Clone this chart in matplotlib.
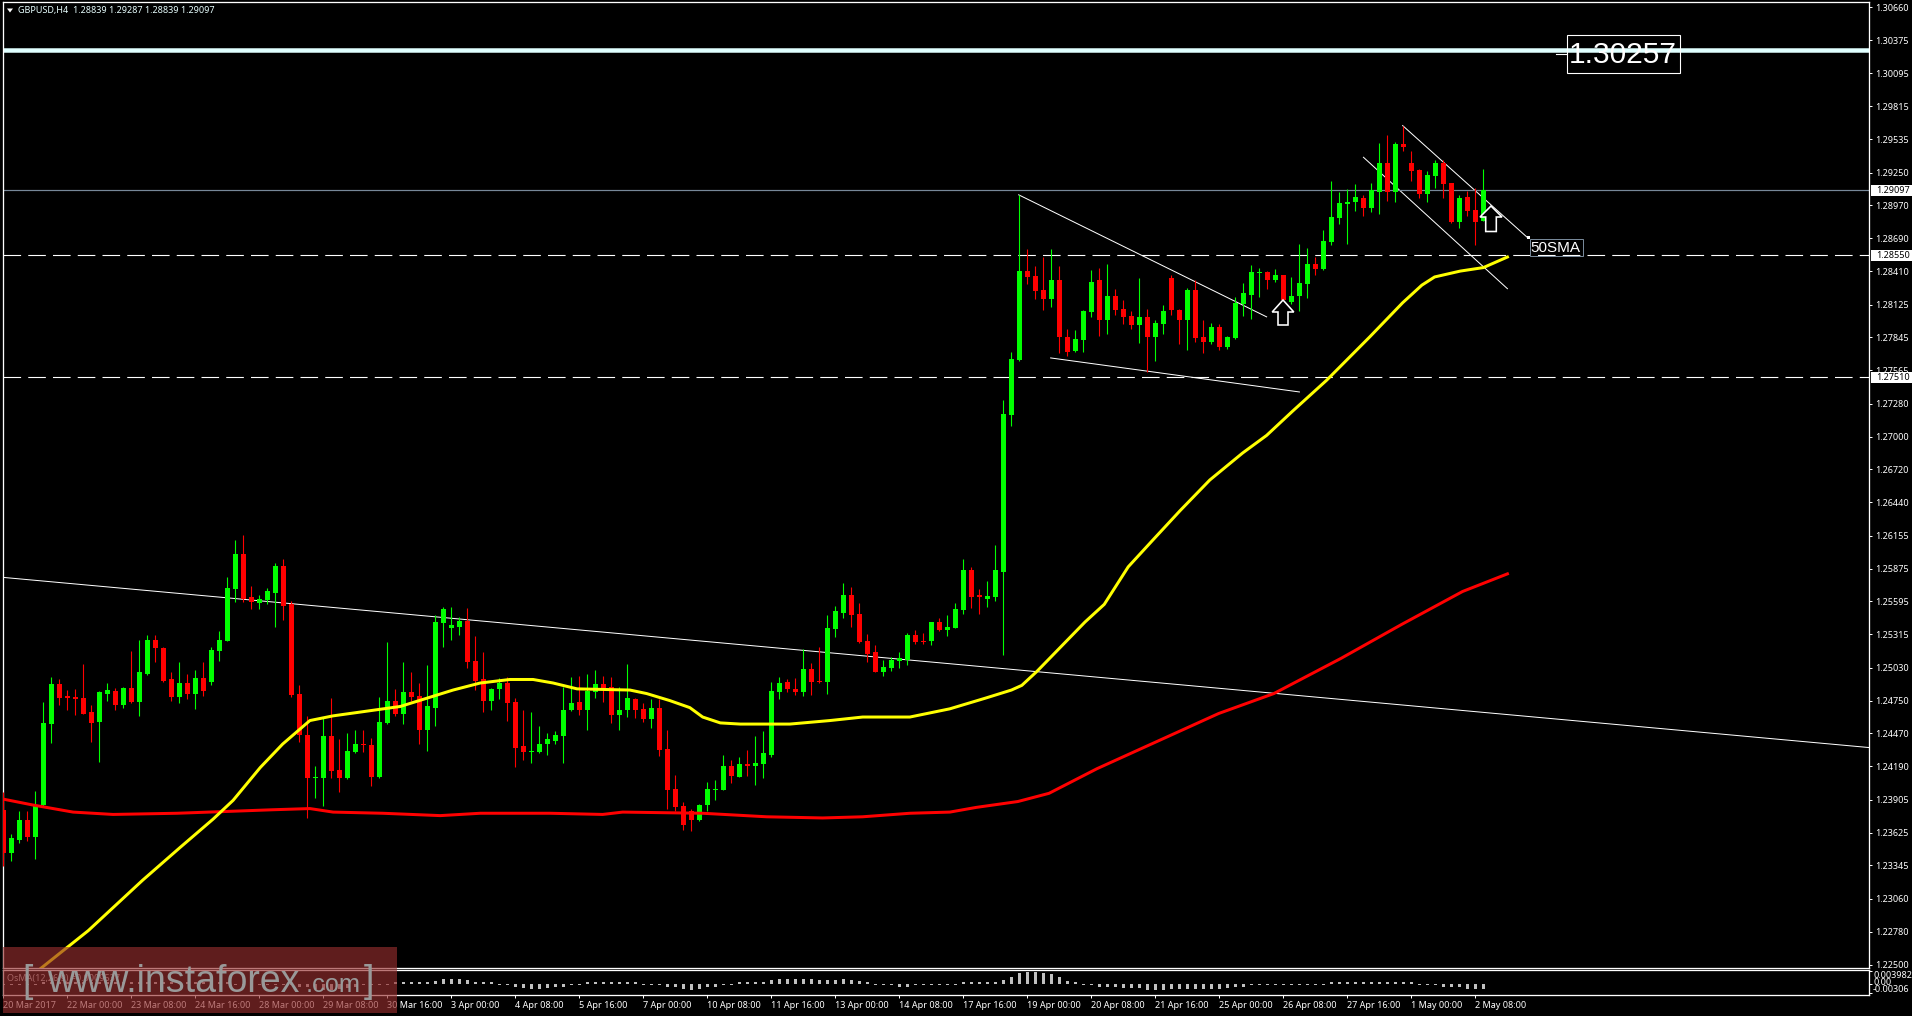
import matplotlib
matplotlib.use("Agg")
import matplotlib.pyplot as plt
from matplotlib.patches import Rectangle, Polygon
import numpy as np

# Prices in 1/10000 of a dollar
opens = [12382,12345,12356,12373,12359,12386,12455,12489,12479,12478,
         12477,12465,12457,12481,12483,12471,12486,12474,12498,12527,
         12520,12493,12478,12490,12481,12494,12491,12517,12526,12570,
         12600,12563,12558,12561,12567,12590,12557,12481,12446,12409,
         12409,12445,12416,12409,12431,12438,12437,12410,12456,12475,
         12464,12482,12479,12450,12469,12541,12537,12538,12543,12509,
         12493,12475,12485,12490,12474,12436,12431,12431,12438,12441,
         12445,12467,12474,12467,12482,12489,12487,12463,12467,12476,
         12468,12459,12469,12434,12400,12385,12381,12373,12386,12399,
         12399,12419,12410,12421,12419,12421,12429,12482,12491,12485,
         12482,12502,12492,12491,12536,12550,12565,12549,12526,12516,
         12499,12503,12509,12510,12531,12526,12526,12542,12535,12537,
         12552,12586,12565,12562,12563,12585,12718,12765,12841,12837,
         12825,12817,12833,12785,12773,12782,12806,12833,12799,12820,
         12809,12803,12795,12802,12785,12796,12835,12808,12799,12825,
         12785,12781,12793,12776,12784,12813,12821,12839,12840,12833,
         12838,12815,12820,12830,12847,12843,12866,12886,12898,12900,
         12903,12895,12908,12933,12908,12949,12933,12927,12907,12922,
         12933,12916,12883,12904,12893,12884]
highs = [12397,12361,12381,12381,12398,12474,12495,12493,12484,12485,
         12506,12471,12483,12490,12486,12487,12517,12527,12531,12531,
         12521,12499,12508,12498,12501,12508,12521,12534,12580,12612,
         12616,12573,12565,12571,12592,12596,12560,12488,12462,12419,
         12460,12477,12442,12447,12450,12450,12443,12478,12525,12485,
         12508,12499,12490,12505,12548,12555,12555,12546,12554,12530,
         12516,12486,12494,12495,12477,12467,12465,12453,12447,12449,
         12487,12495,12496,12498,12501,12496,12495,12487,12506,12477,
         12473,12476,12476,12450,12412,12389,12383,12387,12406,12407,
         12429,12424,12427,12433,12445,12449,12491,12495,12493,12494,
         12519,12507,12521,12548,12556,12575,12572,12558,12532,12522,
         12510,12512,12516,12533,12535,12533,12542,12545,12548,12558,
         12596,12589,12570,12577,12608,12731,12772,12906,12860,12845,
         12853,12860,12845,12792,12791,12808,12842,12844,12847,12826,
         12816,12807,12835,12809,12799,12812,12838,12809,12827,12833,
         12799,12797,12796,12786,12819,12831,12846,12844,12841,12843,
         12838,12836,12864,12861,12853,12876,12918,12908,12911,12915,
         12906,12916,12950,12957,12951,12965,12943,12928,12926,12936,
         12936,12916,12906,12909,12912,12928]
lows = [12334,12338,12354,12355,12340,12385,12439,12471,12467,12463,
        12464,12440,12423,12475,12467,12469,12473,12462,12497,12508,
        12491,12475,12473,12476,12468,12479,12488,12509,12526,12559,
        12559,12553,12553,12557,12538,12544,12478,12440,12375,12392,
        12385,12409,12397,12408,12430,12431,12402,12409,12455,12462,
        12455,12475,12438,12432,12453,12521,12527,12531,12503,12484,
        12465,12467,12476,12458,12418,12424,12422,12430,12429,12438,
        12422,12466,12463,12450,12477,12474,12456,12450,12461,12460,
        12457,12452,12428,12383,12381,12365,12364,12372,12381,12390,
        12399,12405,12410,12411,12403,12409,12427,12476,12482,12480,
        12479,12480,12490,12481,12529,12545,12538,12524,12508,12499,
        12496,12500,12503,12505,12523,12523,12522,12534,12530,12537,
        12549,12554,12549,12555,12560,12514,12709,12764,12830,12817,
        12808,12810,12771,12769,12772,12772,12802,12786,12787,12804,
        12796,12792,12780,12755,12764,12787,12804,12779,12774,12781,
        12771,12779,12774,12775,12783,12803,12800,12819,12826,12832,
        12804,12813,12807,12818,12838,12842,12863,12881,12864,12892,
        12888,12891,12890,12901,12900,12943,12918,12903,12900,12912,
        12903,12882,12878,12888,12863,12884]
closes = [12345,12358,12373,12359,12385,12456,12489,12477,12477,12476,
          12464,12456,12482,12484,12471,12486,12474,12499,12527,12520,
          12492,12478,12490,12481,12494,12483,12518,12527,12571,12600,
          12562,12559,12562,12568,12590,12556,12480,12446,12409,12410,
          12445,12415,12409,12432,12438,12437,12410,12457,12475,12464,
          12482,12478,12450,12470,12542,12553,12539,12543,12508,12492,
          12475,12485,12490,12473,12435,12431,12432,12438,12442,12446,
          12467,12473,12467,12483,12489,12486,12463,12467,12477,12467,
          12459,12469,12433,12399,12384,12369,12373,12386,12400,12400,
          12419,12411,12421,12419,12422,12430,12483,12490,12485,12482,
          12502,12491,12491,12537,12551,12565,12548,12525,12515,12499,
          12504,12510,12511,12531,12525,12525,12542,12535,12538,12553,
          12586,12563,12563,12564,12586,12719,12766,12841,12836,12824,
          12817,12833,12785,12772,12783,12807,12832,12799,12820,12808,
          12802,12795,12802,12785,12797,12807,12808,12799,12825,12784,
          12781,12793,12776,12785,12814,12822,12840,12840,12833,12838,
          12816,12820,12831,12847,12843,12867,12887,12899,12900,12904,
          12895,12910,12933,12908,12949,12947,12926,12907,12923,12933,
          12915,12883,12903,12892,12883,12910]

sma50_idx = [2,4.7,10.6,17.4,22.1,26.2,28.7,32.1,34.9,38.3,41.2,49.6,52.9,56.2,59.6,63.3,66.2,68.7,71.7,78.3,
             80.4,83.3,85.8,87.4,89.6,92.1,98.3,103.3,107.4,113.3,118.3,122.7,126,127.3,129.2,132.2,135.2,137.6,
             140.6,143.7,147.1,150.8,154.9,157.9,161.2,165.4,170.8,174.9,177.3,178.9,182.1,185,188]
sma50_val = [12233,12247,12279,12322,12350,12374,12390,12418,12438,12458,12462,12470,12477,12484,12490,12493,12493,12490,12485,12484,
             12481,12475,12469,12461,12456,12455,12455,12458,12461,12461,12468,12477,12484,12488,12500,12521,12542,12557,
             12589,12612,12637,12663,12686,12701,12722,12748,12785,12814,12829,12836,12841,12844,12853]
sma200_idx = [0,3.7,8.7,13.7,21.7,33.7,38.3,41.2,47.4,54.6,59.6,68.3,74.9,77.4,87.4,95.4,102.4,107.4,113.3,118.3,
              121.6,126.8,130.7,136.7,151.9,158.8,167.2,174.8,182.4,188]
sma200_val = [12391,12386,12380,12378,12379,12382,12383,12380,12379,12377,12379,12379,12378,12380,12379,12376,12375,12376,12379,12380,
              12384,12389,12396,12417,12464,12481,12511,12540,12568,12583]

# OsMA histogram, in units of 0.0001
osma = [-5,-5,-5,-2,-1,2,3,3,2,2,2,2,2,2,2,2,2,2,2,2,2,2,2,1,1,1,1,1,1,-1,-1,-1,-2,-2,-2,-2,-5,-9,-12,-17,-19,-19,-17,-15,-9,-5,-2,-2,-1,1,2,3,3,5,9,
        15,15,15,12,2,2,1,-2,-5,-12,-15,-17,-17,-15,-12,-9,-5,-2,1,2,3,3,2,2,1,-1,-2,-5,-9,-12,-17,-19,-17,-12,-9,-5,-2,1,2,3,
        5,12,15,15,15,15,15,12,12,12,15,12,9,5,-1,-2,-5,-9,-9,-5,-5,-5,-2,-2,-2,
        1,1,1,1,1,12,21,34,37,37,34,31,21,9,2,
        -5,-4,-9,-12,-12,-15,-15,-15,-19,-19,-19,-17,-17,-17,-17,-17,-17,-17,-15,-12,-9,-5,-2,-2,-2,-2,-4,-5,-5,-5,-2,2,5,5,5,5,5,5,2,2,2,2,-2,-4,-5,-9,-12,-12,-16,-16,-16]

price_ticks = [1.30660,1.30375,1.30095,1.29815,1.29535,1.29250,1.28970,1.28690,1.28410,1.28125,1.27845,1.27565,1.27280,1.27000,1.26720,
               1.26440,1.26155,1.25875,1.25595,1.25315,1.25030,1.24750,1.24470,1.24190,1.23905,1.23625,1.23345,1.23060,1.22780,1.22500]
date_labels = ["20 Mar 2017","22 Mar 00:00","23 Mar 08:00","24 Mar 16:00","28 Mar 00:00","29 Mar 08:00","30 Mar 16:00","3 Apr 00:00",
               "4 Apr 08:00","5 Apr 16:00","7 Apr 00:00","10 Apr 08:00","11 Apr 16:00","13 Apr 00:00","14 Apr 08:00","17 Apr 16:00",
               "19 Apr 00:00","20 Apr 08:00","21 Apr 16:00","25 Apr 00:00","26 Apr 08:00","27 Apr 16:00","1 May 00:00","2 May 08:00"]

hline_thick = 1.3029
hline_current = 1.29097
hlines_dashed = [1.28550, 1.27510]
trendlines = [((-0.06, 1.2580), (233.2, 1.2435)),
              ((126.9, 1.2906), (157.9, 1.2802)),
              ((130.9, 1.2767), (162.0, 1.2738)),
              ((174.9, 1.2965), (190.6, 1.2869)),
              ((170.0, 1.2938), (188.0, 1.2826))]

W, H = 1912, 1016
FONT = "Noto Sans"
plt.rcParams["font.family"] = [FONT, "DejaVu Sans"]
fig = plt.figure(figsize=(W/100, H/100), dpi=100, facecolor="black")
px = 0.72  # one pixel in points

def fx(x): return x / W
def fy(y): return 1 - y / H

XL, XR = 3, 1869
def make_axes(top, bottom):
    ax = fig.add_axes([fx(XL), fy(bottom), fx(XR - XL), (bottom - top) / H], facecolor="black")
    for s in ax.spines.values():
        s.set_color("white")
        s.set_linewidth(1.3 * px)
    return ax

ax = make_axes(2, 967.7)
xlim = (-0.0625, 233.2)
ax.set_xlim(*xlim)
ax.set_ylim(1.22474, 1.30703)
ax.set_xticks([])
ax.yaxis.tick_right()
ax.set_yticks(price_ticks)
ax.set_yticklabels([f"{t:.5f}" for t in price_ticks])
ax.tick_params(axis="y", colors="white", labelsize=6.5, length=2.4, width=px, pad=1.9)

O, Hi, Lo, C = [np.array(a) / 10000 for a in (opens, highs, lows, closes)]
idx = np.arange(len(O))
col = np.where(C >= O, "#00FF00", "#FF0000")

for a, b in trendlines:
    ax.plot([a[0], b[0]], [a[1], b[1]], color="white", lw=1.0 * px, zorder=2)
ax.axhline(hline_thick, color="#E0FFFF", lw=4.5 * px, zorder=2)
ax.axhline(hline_current, color="#778899", lw=1.2 * px, zorder=2)
for p in hlines_dashed:
    ax.axhline(p, color="white", lw=1.1 * px, dashes=(16, 6.5), zorder=2)

ax.vlines(idx, Lo, Hi, colors=col, lw=1.1 * px, zorder=3)
ax.bar(idx, np.maximum(np.abs(C - O), 0.00008), bottom=np.minimum(O, C), width=5 / 8, color=col,
       linewidth=0, antialiased=False, zorder=4)
ax.plot(sma200_idx, np.array(sma200_val) / 10000, color="#FF0000", lw=3 * px, zorder=5)
ax.plot(sma50_idx, np.array(sma50_val) / 10000, color="#FFFF00", lw=3 * px, zorder=6)

# Oscillator panel
ax2 = make_axes(969.7, 995.3)
ax2.set_xlim(*xlim)
ax2.set_ylim(-0.00371, 0.00448)
ticks_x = np.arange(len(date_labels)) * 8
ax2.set_xticks(ticks_x)
ax2.set_xticklabels(date_labels, ha="left")
ax2.yaxis.tick_right()
ax2.set_yticks([0.00398, 0.0, -0.00307])
ax2.set_yticklabels([])
ax2.tick_params(axis="x", colors="white", labelsize=6.5, length=2.4, width=px, pad=1.5)
ax2.tick_params(axis="y", colors="white", length=2.4, width=px)
ov = np.array(osma) * 1e-4
ov = np.where(np.abs(ov) < 0.0004, np.sign(ov) * 0.0004, ov)
ax2.bar(idx, ov, width=3 / 8, color="#C0C0C0", linewidth=0, antialiased=False)
ax2.text((7 - XL) / (XR - XL), (995.3 - 978) / 25.6, "OsMA(12,26,9) =0.0009537",
         transform=ax2.transAxes, color="#C0C0C0", fontsize=6.5, va="center", ha="left")
for label, y in [("0.003982", 976), ("0.00", 982.7), ("-0.00306", 989)]:
    fig.text(fx(1873), fy(y), label, color="white", fontsize=6.5, va="center", ha="left")

# Header
fig.text(fx(18), fy(10.7), "GBPUSD,H4  1.28839 1.29287 1.28839 1.29097", color="#E8FFFF", fontsize=6.5, va="center", ha="left")
fig.add_artist(Polygon([(fx(7), fy(8.5)), (fx(13), fy(8.5)), (fx(10), fy(12.5))], closed=True,
                       transform=fig.transFigure, facecolor="white", edgecolor="none", zorder=5))

# Price labels on white boxes
for label, y in [("1.29097", 190.3), ("1.28550", 255), ("1.27510", 377)]:
    fig.add_artist(Rectangle((fx(1870.5), fy(y + 5.5)), (W - 1870.5) / W, 11 / H, transform=fig.transFigure,
                             facecolor="white", edgecolor="none", zorder=5))
    fig.text(fx(1875.7), fy(y), label, color="black", fontsize=6.5, va="center", ha="left", zorder=6)

# Annotation boxes
fig.add_artist(Rectangle((fx(1566.6), fy(73)), 113.4 / W, 38 / H, transform=fig.transFigure,
                         facecolor="none", edgecolor="white", lw=1.1 * px, zorder=7))
fig.text(fx(1569), fy(55), "1.30257", color="white", fontsize=21.5, family="Liberation Sans", va="center", ha="left", zorder=7)
fig.add_artist(plt.Line2D([fx(1556), fx(1567)], [fy(53.7), fy(53.7)], transform=fig.transFigure, color="white", lw=1.1 * px, zorder=7))

fig.add_artist(Rectangle((fx(1529.5), fy(256)), 53 / W, 17 / H, transform=fig.transFigure,
                         facecolor="none", edgecolor="#778899", lw=1.0 * px, zorder=7))
fig.text(fx(1530.5), fy(247.5), "50SMA", color="white", fontsize=11, family="Liberation Sans", va="center", ha="left", zorder=8)
fig.add_artist(Rectangle((fx(1527), fy(238.5)), 2.5 / W, 2.5 / H, transform=fig.transFigure, facecolor="white", edgecolor="none", zorder=8))

# Up arrows
def arrow(apex_x, apex_y, hw, head_h, sw, total_h):
    pts = [(apex_x, apex_y), (apex_x + hw, apex_y + head_h), (apex_x + sw, apex_y + head_h),
           (apex_x + sw, apex_y + total_h), (apex_x - sw, apex_y + total_h), (apex_x - sw, apex_y + head_h),
           (apex_x - hw, apex_y + head_h)]
    fig.add_artist(Polygon([(fx(a), fy(b)) for a, b in pts], closed=True, transform=fig.transFigure,
                           facecolor="black", edgecolor="white", lw=1.6 * px, zorder=7))
arrow(1283, 300, 10.8, 12, 5, 25)
arrow(1491, 206, 11, 11, 5.3, 25.5)

# Watermark
fig.add_artist(Rectangle((fx(3), fy(1013)), 394 / W, 66 / H, transform=fig.transFigure,
                         facecolor=(0.59, 0.18, 0.18), alpha=0.64, edgecolor="none", zorder=10))
wm = dict(color="#999999", family="Liberation Sans", va="baseline", ha="left", zorder=11)
fig.text(fx(22), fy(992), "[", fontsize=27, **wm)
fig.text(fx(47), fy(992), "www.instaforex", fontsize=27, **wm)
fig.text(fx(306), fy(992), ".com", fontsize=18.3, **wm)
fig.text(fx(364), fy(992), "]", fontsize=27, **wm)

fig.savefig("out.png", dpi=100, facecolor="black")
